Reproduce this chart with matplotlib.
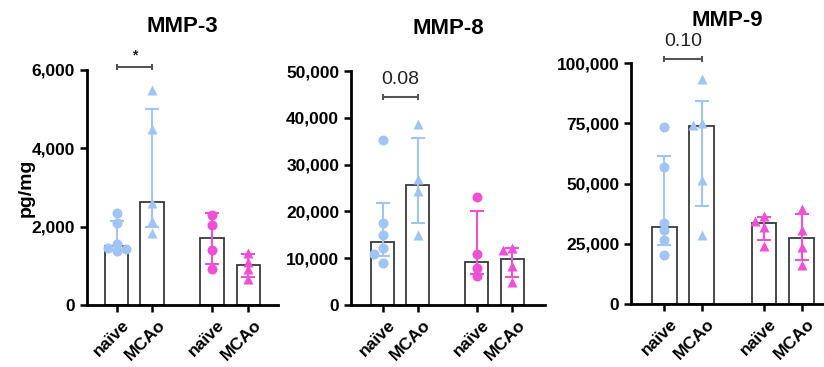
import numpy as np
import matplotlib
matplotlib.use("Agg")
import matplotlib.pyplot as plt
import matplotlib.transforms as mtransforms
from matplotlib.ticker import FuncFormatter

plt.rcParams['font.family'] = ['Liberation Sans', 'DejaVu Sans']

# ---------------------------
# Data
# ---------------------------
groups = ["naïve", "MCAo", "naïve", "MCAo"]

# MMP-3
mmp3_points = [
    [2360, 2090, 1560, 1450, 1420, 1390],
    [5490, 4500, 2600, 2150, 1830],
    [2300, 2040, 1400, 910],
    [1340, 1110, 920, 660],
]
mmp3_bar = [1500, 2620, 1700, 1020]
mmp3_lo = [1410, 1980, 1050, 710]
mmp3_hi = [2150, 5000, 2340, 1300]

# MMP-8
mmp8_points = [
    [35260, 17450, 14960, 12110, 10900, 8900],
    [38680, 26920, 24360, 14960],
    [23150, 10900, 7830, 6150],
    [12250, 11680, 8360, 4940],
]
mmp8_bar = [13530, 25640, 9260, 9830]
mmp8_lo = [10470, 17590, 6560, 5900]
mmp8_hi = [21860, 35750, 20080, 12110]

# MMP-9
mmp9_points = [
    [73300, 56700, 33600, 30800, 26700, 20200],
    [93400, 75100, 74400, 51600, 28800],
    [36600, 34300, 31900, 24200],
    [39400, 30500, 23700, 16300],
]
mmp9_bar = [31800, 74000, 33600, 27400]
mmp9_lo = [24600, 40500, 26400, 18100]
mmp9_hi = [61250, 84100, 36100, 37500]

# significance annotations (label, bracket height)
mmp3_sig = ("*", 6080)
mmp8_sig = ("0.08", 44500)
mmp9_sig = ("0.10", 101800)

# ---------------------------
# Style
# ---------------------------
BLUE = "#a0c4f4"
PINK = "#f050d6"
EDGE = "#3a3a3a"
colors = [BLUE, BLUE, PINK, PINK]

xpos = np.array([0, 1, 2.68, 3.7])
W, H = 824, 367


def swarm(ax, x0, vals, size_px):
    # greedy beeswarm: shift a point sideways when it would overlap a placed one
    order = np.argsort(vals)[::-1]
    pts = ax.transData.transform([(x0, v) for v in vals])
    placed = {}
    for i in order:
        px, py = pts[i]
        for k in [0, -1, 1, -2, 2]:
            cand = (px + k * size_px, py)
            if all(np.hypot(cand[0] - q[0], cand[1] - q[1]) >= 0.7 * size_px
                   for q in placed.values()):
                break
        placed[i] = cand
    inv = ax.transData.inverted()
    return inv.transform([placed[i] for i in range(len(vals))])


def panel(rect_px, title, points, bar, lo, hi, markers, ymax, ystep, xlim, sig, sig_fs, sig_bold):
    l, r, t, b = rect_px
    ax = fig.add_axes([l / W, (H - b) / H, (r - l) / W, (b - t) / H])
    ax.set_xlim(*xlim)
    ax.set_ylim(0, ymax)

    ax.bar(xpos, bar, width=0.66, color="white", edgecolor=EDGE, linewidth=1.3, zorder=1)
    for i in range(4):
        bx = xpos[i]
        ax.errorbar([bx], [bar[i]], yerr=[[bar[i] - lo[i]], [hi[i] - bar[i]]],
                    fmt="none", ecolor=colors[i], elinewidth=1.5, capsize=5, capthick=1.5, zorder=2)
        xy = swarm(ax, bx, points[i], 9)
        ax.scatter(xy[:, 0], xy[:, 1], marker=markers[i], s=52, color=colors[i],
                   linewidths=0, zorder=3, clip_on=False)

    # significance bracket
    label, sy = sig
    ax.plot([xpos[0], xpos[1]], [sy, sy], color="#555555", lw=1.5, clip_on=False,
            solid_capstyle="butt")
    for sx in xpos[:2]:
        ax.plot([sx], [sy], marker="|", ms=4, color="#555555", mew=1.5, clip_on=False)
    ax.annotate(label, ((xpos[0] + xpos[1]) / 2, sy), xytext=(0, 3 if sig_bold else 6),
                textcoords="offset points", ha="center", va="bottom",
                fontsize=sig_fs, fontweight="bold" if sig_bold else "normal",
                color="#222222", annotation_clip=False)

    ax.set_title(title, fontsize=16, fontweight="bold", pad=27)
    ax.set_yticks(np.arange(0, ymax + 1, ystep))
    ax.yaxis.set_major_formatter(FuncFormatter(lambda v, p: f"{int(v):,}"))
    ax.set_xticks(xpos)
    ax.set_xticklabels(groups, rotation=45, ha="right", rotation_mode="anchor")
    ax.tick_params(axis="y", labelsize=12.5, width=1.8, length=5, direction="out")
    ax.tick_params(axis="x", labelsize=12.5, width=1.8, length=5, direction="out", pad=4)
    shift = mtransforms.ScaledTranslation(5 / 100, 0, fig.dpi_scale_trans)
    for lab in ax.get_xticklabels():
        lab.set_fontweight("bold")
        lab.set_transform(lab.get_transform() + shift)
    for lab in ax.get_yticklabels():
        lab.set_fontweight("bold")
    for s in ["top", "right"]:
        ax.spines[s].set_visible(False)
    for s in ["left", "bottom"]:
        ax.spines[s].set_linewidth(2)
    return ax


fig = plt.figure(figsize=(W / 100, H / 100), dpi=100)

ax1 = panel((87, 278, 70, 305), "MMP-3", mmp3_points, mmp3_bar, mmp3_lo, mmp3_hi,
            ["o", "^", "o", "^"], 6000, 2000, (-0.83, 4.53), mmp3_sig, 10, True)
ax1.set_ylabel("pg/mg", fontsize=14, fontweight="bold", labelpad=-2)

panel((351, 545, 71, 305), "MMP-8", mmp8_points, mmp8_bar, mmp8_lo, mmp8_hi,
      ["o", "^", "o", "^"], 50000, 10000, (-0.91, 4.63), mmp8_sig, 14, False)

panel((631, 824, 63, 304), "MMP-9", mmp9_points, mmp9_bar, mmp9_lo, mmp9_hi,
      ["o", "^", "^", "^"], 100000, 25000, (-0.9, 4.3), mmp9_sig, 14, False)

fig.savefig("out.png", dpi=100)
